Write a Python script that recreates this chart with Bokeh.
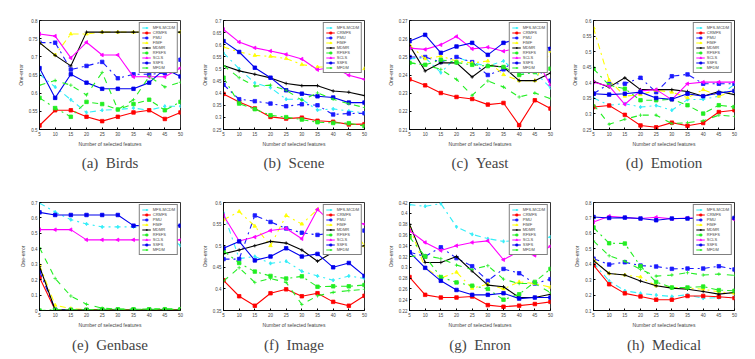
import math
from bokeh.plotting import figure
from bokeh.layouts import gridplot
from bokeh.models import Range1d, FixedTicker, CustomJSTickFormatter, Title
from bokeh.embed import file_html
from bokeh.resources import INLINE

X = [5, 10, 15, 20, 25, 30, 35, 40, 45, 50]
METHODS = ["MFS-MCDM", "CRMFS", "PMU", "FIMF", "MDMR", "RFSFS", "SCLS", "SSFS", "MFDM"]

BIRDS = {
    "MFS-MCDM": [0.652, 0.617, 0.582, 0.547, 0.553, 0.555, 0.559, 0.553, 0.564, 0.564],
    "CRMFS": [0.511, 0.553, 0.553, 0.535, 0.523, 0.535, 0.547, 0.553, 0.529, 0.547],
    "PMU": [0.739, 0.739, 0.665, 0.675, 0.686, 0.641, 0.652, 0.652, 0.655, 0.692],
    "FIMF": [0.739, 0.705, 0.763, 0.763, 0.768, 0.768, 0.768, 0.768, 0.768, 0.768],
    "MDMR": [0.739, 0.704, 0.675, 0.768, 0.768, 0.768, 0.768, 0.768, 0.768, 0.768],
    "RFSFS": [0.587, 0.559, 0.535, 0.576, 0.570, 0.555, 0.570, 0.582, 0.553, 0.576],
    "SCLS": [0.763, 0.757, 0.697, 0.740, 0.705, 0.705, 0.645, 0.645, 0.645, 0.669],
    "SSFS": [0.669, 0.587, 0.652, 0.629, 0.612, 0.612, 0.612, 0.629, 0.667, 0.646],
    "MFDM": [0.622, 0.635, 0.622, 0.595, 0.657, 0.555, 0.582, 0.646, 0.617, 0.630],
}
SCENE = {
    "MFS-MCDM": [0.566, 0.501, 0.442, 0.423, 0.375, 0.375, 0.330, 0.335, 0.326, 0.319],
    "CRMFS": [0.397, 0.364, 0.337, 0.302, 0.295, 0.299, 0.286, 0.282, 0.271, 0.272],
    "PMU": [0.435, 0.375, 0.367, 0.357, 0.346, 0.354, 0.350, 0.312, 0.316, 0.317],
    "FIMF": [0.591, 0.570, 0.556, 0.552, 0.543, 0.518, 0.508, 0.508, 0.508, 0.501],
    "MDMR": [0.514, 0.492, 0.478, 0.463, 0.440, 0.431, 0.431, 0.409, 0.404, 0.390],
    "RFSFS": [0.464, 0.357, 0.334, 0.309, 0.301, 0.291, 0.280, 0.277, 0.276, 0.264],
    "SCLS": [0.663, 0.611, 0.587, 0.574, 0.560, 0.541, 0.497, 0.508, 0.474, 0.457],
    "SSFS": [0.615, 0.570, 0.505, 0.464, 0.412, 0.398, 0.387, 0.382, 0.361, 0.361],
    "MFDM": [0.514, 0.464, 0.429, 0.433, 0.412, 0.371, 0.401, 0.375, 0.356, 0.341],
}
YEAST = {
    "MFS-MCDM": [0.2489, 0.2495, 0.2413, 0.2499, 0.2467, 0.2449, 0.2477, 0.2403, 0.2416, 0.2330],
    "CRMFS": [0.2376, 0.2343, 0.2301, 0.2279, 0.2268, 0.2237, 0.2246, 0.2124, 0.2261, 0.2215],
    "PMU": [0.2499, 0.2499, 0.2471, 0.2499, 0.2471, 0.2400, 0.2431, 0.2500, 0.2440, 0.2369],
    "FIMF": [0.2566, 0.2489, 0.2504, 0.2477, 0.2466, 0.2477, 0.2402, 0.2369, 0.2369, 0.2531],
    "MDMR": [0.2563, 0.2422, 0.2467, 0.2467, 0.2389, 0.2453, 0.2444, 0.2369, 0.2369, 0.2411],
    "RFSFS": [0.2467, 0.2456, 0.2484, 0.2469, 0.2456, 0.2449, 0.2444, 0.2400, 0.2416, 0.2435],
    "SCLS": [0.2548, 0.2541, 0.2566, 0.2612, 0.2544, 0.2553, 0.2531, 0.2550, 0.2500, 0.2345],
    "SSFS": [0.2586, 0.2621, 0.2522, 0.2557, 0.2577, 0.2511, 0.2577, 0.2600, 0.2580, 0.2544],
    "MFDM": [0.2467, 0.2456, 0.2431, 0.2376, 0.2288, 0.2367, 0.2334, 0.2279, 0.2301, 0.2270],
}
EMOTION = {
    "MFS-MCDM": [0.351, 0.328, 0.333, 0.322, 0.327, 0.312, 0.346, 0.347, 0.357, 0.395],
    "CRMFS": [0.322, 0.327, 0.297, 0.263, 0.257, 0.272, 0.262, 0.271, 0.306, 0.312],
    "PMU": [0.365, 0.397, 0.397, 0.416, 0.370, 0.421, 0.427, 0.397, 0.397, 0.397],
    "FIMF": [0.576, 0.408, 0.357, 0.362, 0.376, 0.370, 0.352, 0.378, 0.357, 0.374],
    "MDMR": [0.405, 0.386, 0.416, 0.378, 0.378, 0.378, 0.372, 0.357, 0.372, 0.362],
    "RFSFS": [0.445, 0.392, 0.381, 0.344, 0.344, 0.347, 0.328, 0.301, 0.328, 0.322],
    "SCLS": [0.402, 0.389, 0.331, 0.374, 0.378, 0.346, 0.397, 0.402, 0.402, 0.402],
    "SSFS": [0.365, 0.362, 0.365, 0.370, 0.351, 0.347, 0.365, 0.357, 0.367, 0.374],
    "MFDM": [0.330, 0.267, 0.283, 0.296, 0.296, 0.269, 0.272, 0.278, 0.296, 0.292],
}
GENBASE = {
    "MFS-MCDM": [0.696, 0.638, 0.589, 0.561, 0.542, 0.542, 0.542, 0.535, 0.490, 0.422],
    "CRMFS": [0.214, 0.003, 0.002, 0.002, 0.002, 0.002, 0.002, 0.002, 0.002, 0.002],
    "PMU": [0.255, 0.005, 0.003, 0.003, 0.003, 0.003, 0.003, 0.003, 0.003, 0.003],
    "FIMF": [0.295, 0.034, 0.012, 0.005, 0.005, 0.005, 0.005, 0.005, 0.005, 0.005],
    "MDMR": [0.285, 0.003, 0.003, 0.003, 0.003, 0.003, 0.003, 0.003, 0.003, 0.003],
    "RFSFS": [0.000, 0.005, 0.005, 0.005, 0.008, 0.008, 0.008, 0.008, 0.008, 0.008],
    "SCLS": [0.524, 0.524, 0.524, 0.458, 0.458, 0.458, 0.458, 0.458, 0.458, 0.458],
    "SSFS": [0.636, 0.619, 0.619, 0.619, 0.619, 0.619, 0.550, 0.550, 0.550, 0.550],
    "MFDM": [0.407, 0.208, 0.094, 0.041, 0.015, 0.010, 0.010, 0.010, 0.012, 0.010],
}
IMAGE = {
    "MFS-MCDM": [0.576, 0.470, 0.475, 0.459, 0.464, 0.441, 0.430, 0.420, 0.430, 0.424],
    "CRMFS": [0.420, 0.383, 0.361, 0.390, 0.399, 0.383, 0.390, 0.370, 0.361, 0.384],
    "PMU": [0.469, 0.469, 0.570, 0.555, 0.540, 0.530, 0.525, 0.530, 0.540, 0.535],
    "FIMF": [0.560, 0.579, 0.545, 0.500, 0.570, 0.550, 0.584, 0.580, 0.550, 0.500],
    "MDMR": [0.481, 0.490, 0.500, 0.510, 0.506, 0.490, 0.464, 0.485, 0.495, 0.500],
    "RFSFS": [0.488, 0.460, 0.440, 0.430, 0.424, 0.429, 0.405, 0.406, 0.406, 0.409],
    "SCLS": [0.570, 0.511, 0.520, 0.535, 0.540, 0.516, 0.584, 0.550, 0.560, 0.550],
    "SSFS": [0.494, 0.510, 0.466, 0.475, 0.494, 0.475, 0.481, 0.450, 0.460, 0.430],
    "MFDM": [0.418, 0.449, 0.415, 0.424, 0.415, 0.364, 0.384, 0.392, 0.396, 0.399],
}
ENRON = {
    "MFS-MCDM": [0.416, 0.413, 0.418, 0.375, 0.361, 0.353, 0.348, 0.350, 0.352, 0.356],
    "CRMFS": [0.282, 0.249, 0.244, 0.244, 0.246, 0.230, 0.227, 0.229, 0.232, 0.236],
    "PMU": [0.328, 0.320, 0.337, 0.317, 0.302, 0.275, 0.297, 0.289, 0.270, 0.278],
    "FIMF": [0.375, 0.299, 0.280, 0.291, 0.261, 0.269, 0.260, 0.273, 0.270, 0.263],
    "MDMR": [0.380, 0.309, 0.309, 0.320, 0.293, 0.267, 0.264, 0.244, 0.244, 0.250],
    "RFSFS": [0.356, 0.320, 0.282, 0.272, 0.266, 0.260, 0.240, 0.250, 0.273, 0.297],
    "SCLS": [0.368, 0.346, 0.331, 0.340, 0.346, 0.349, 0.314, 0.330, 0.322, 0.339],
    "SSFS": [0.328, 0.299, 0.275, 0.258, 0.249, 0.249, 0.252, 0.242, 0.244, 0.244],
    "MFDM": [0.320, 0.322, 0.316, 0.304, 0.296, 0.303, 0.278, 0.270, 0.270, 0.253],
}
MEDICAL = {
    "MFS-MCDM": [0.409, 0.291, 0.228, 0.211, 0.200, 0.191, 0.202, 0.179, 0.183, 0.185],
    "CRMFS": [0.394, 0.270, 0.211, 0.191, 0.170, 0.170, 0.194, 0.194, 0.189, 0.181],
    "PMU": [0.436, 0.398, 0.413, 0.391, 0.385, 0.370, 0.372, 0.372, 0.387, 0.366],
    "FIMF": [0.430, 0.340, 0.330, 0.317, 0.260, 0.249, 0.245, 0.238, 0.221, 0.211],
    "MDMR": [0.423, 0.340, 0.330, 0.291, 0.260, 0.245, 0.238, 0.223, 0.206, 0.217],
    "RFSFS": [0.638, 0.536, 0.534, 0.387, 0.285, 0.249, 0.249, 0.255, 0.232, 0.228],
    "SCLS": [0.674, 0.711, 0.702, 0.696, 0.704, 0.694, 0.700, 0.700, 0.700, 0.689],
    "SSFS": [0.706, 0.700, 0.702, 0.696, 0.685, 0.696, 0.696, 0.700, 0.700, 0.700],
    "MFDM": [0.551, 0.455, 0.419, 0.366, 0.323, 0.330, 0.345, 0.330, 0.336, 0.328],
}

BIRDS_TICKS = [0.5, 0.55, 0.6, 0.65, 0.7, 0.75, 0.8]
SCENE_TICKS = [0.25, 0.3, 0.35, 0.4, 0.45, 0.5, 0.55, 0.6, 0.65, 0.7]
YEAST_TICKS = [0.21, 0.22, 0.23, 0.24, 0.25, 0.26, 0.27]
EMOTION_TICKS = [0.25, 0.3, 0.35, 0.4, 0.45, 0.5, 0.55, 0.6]
GENBASE_TICKS = [0, 0.1, 0.2, 0.3, 0.4, 0.5, 0.6, 0.7]
IMAGE_TICKS = [0.35, 0.4, 0.45, 0.5, 0.55, 0.6]
ENRON_TICKS = [0.22, 0.24, 0.26, 0.28, 0.3, 0.32, 0.34, 0.36, 0.38, 0.4, 0.42]
MEDICAL_TICKS = [0.1, 0.2, 0.3, 0.4, 0.5, 0.6, 0.7, 0.8]

CAPTIONS = ["(a)\u2002Birds", "(b)\u2002Scene", "(c)\u2002Yeast", "(d)\u2002Emotion",
            "(e)\u2002Genbase", "(f)\u2002Image", "(g)\u2002Enron", "(h)\u2002Medical"]

STYLE = {
    "MFS-MCDM": ("#33eef8", "dashdot", "diamond", 0),
    "CRMFS": ("#ff0000", "solid", "square", 0),
    "PMU": ("#1a1aff", "dashdot", "square", 0),
    "FIMF": ("#ffff00", "dashdot", "triangle", 0),
    "MDMR": ("#000000", "solid", "cross", 0),
    "RFSFS": ("#22ee22", "dashdot", "square", 0),
    "SCLS": ("#ff00ff", "solid", "triangle", math.pi / 2),
    "SSFS": ("#0000ee", "solid", "square", 0),
    "MFDM": ("#22ee22", "dashed", "cross", 0),
}

FRAME_W = 141
FMT = CustomJSTickFormatter(code="return (Math.round(tick*1000)/1000).toString();")


def panel(caption, data, ticks, w, left, h, top, frame_h, cap_standoff):
    p = figure(width=w, height=h, x_range=Range1d(5, 50),
               y_range=Range1d(ticks[0], ticks[-1]),
               output_backend="svg", toolbar_location=None,
               min_border_left=left, min_border_right=w - left - FRAME_W,
               min_border_top=top, min_border_bottom=h - top - frame_h)
    p.grid.visible = False
    p.outline_line_color = "black"
    p.outline_line_width = 0.8
    p.xaxis.ticker = FixedTicker(ticks=X)
    p.yaxis.ticker = FixedTicker(ticks=ticks)
    p.yaxis.formatter = FMT
    p.xaxis.axis_label = "Number of selected features"
    p.yaxis.axis_label = "One-error"
    for ax in (p.xaxis[0], p.yaxis[0]):
        ax.major_tick_in = 2
        ax.major_tick_out = 0
        ax.minor_tick_line_color = None
        ax.major_label_text_font = "Liberation Sans"
        ax.major_label_text_font_size = "4.5px"
        ax.major_label_standoff = 2
        ax.axis_label_text_font = "Liberation Sans"
        ax.axis_label_text_font_size = "5px"
        ax.axis_label_text_font_style = "normal"
        ax.axis_label_standoff = 2
        ax.axis_line_width = 0.8
    for m in METHODS:
        color, dash, marker, ang = STYLE[m]
        p.line(X, data[m], line_color=color, line_dash=dash, line_width=1.1, legend_label=m)
        p.scatter(X, data[m], marker=marker, angle=ang, size=3.5, line_color=color,
                  fill_color=color, line_width=0.8, legend_label=m)
    lg = p.legend[0]
    lg.location = "top_right"
    lg.margin = 2
    lg.padding = 2
    lg.spacing = 0
    lg.label_text_font = "Liberation Sans"
    lg.label_text_font_size = "4px"
    lg.label_height = 5
    lg.glyph_height = 5
    lg.glyph_width = 9
    lg.label_standoff = 2
    lg.border_line_color = "black"
    lg.border_line_width = 0.6
    lg.background_fill_alpha = 1
    p.add_layout(Title(text=caption, align="center", text_font="Liberation Serif",
                       text_font_size="15px", text_font_style="normal",
                       standoff=cap_standoff), "below")
    return p


datasets = [(BIRDS, BIRDS_TICKS), (SCENE, SCENE_TICKS), (YEAST, YEAST_TICKS),
            (EMOTION, EMOTION_TICKS), (GENBASE, GENBASE_TICKS), (IMAGE, IMAGE_TICKS),
            (ENRON, ENRON_TICKS), (MEDICAL, MEDICAL_TICKS)]
widths = [192, 185, 185, 192]
lefts = [39, 31, 32, 31]
figs = []
for i, (d, t) in enumerate(datasets):
    row = i // 4
    col = i % 4
    if row == 0:
        f = panel(CAPTIONS[i], d, t, widths[col], lefts[col], 178, 20, 109, 7)
    else:
        f = panel(CAPTIONS[i], d, t, widths[col], lefts[col], 180, 24, 108, 8)
    figs.append(f)

grid = gridplot([figs[:4], figs[4:]], toolbar_location=None)
open("out.html", "w").write(file_html(grid, INLINE))
